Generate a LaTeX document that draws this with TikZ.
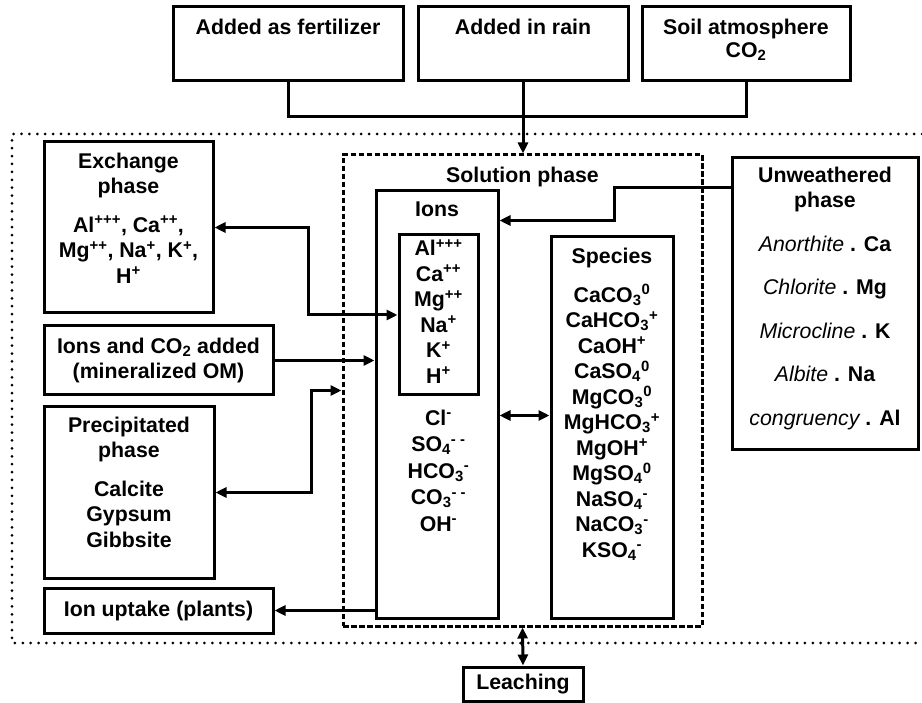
\documentclass[tikz,border=0pt]{standalone}
\usepackage{fontspec}
\setmainfont{Liberation Sans}
\usetikzlibrary{arrows.meta,positioning}

\tikzset{
  box/.style={draw, line width=3pt, inner sep=0pt, align=center},
  txt/.style={align=center, inner sep=0pt},
  link/.style={line width=3pt},
  dashline/.style={dash pattern=on 5.5pt off 2.5pt},
  dotline/.style={line width=3pt, line cap=round, dash pattern=on 0pt off 7.9pt},
}

\begin{document}
\begin{tikzpicture}[x=1pt,y=-1pt,>={Triangle[length=11pt,width=10pt]},
    font=\fontsize{21.3}{25.5}\selectfont\bfseries]

    \fill[white] (0,0) rectangle (922,703);
    \useasboundingbox (0,0) rectangle (922,703);

    % inputs on top
    \node[box, minimum width=230pt, minimum height=74pt] (fert) at (288,44) {};
    \node[box, minimum width=210pt, minimum height=74pt] (rain) at (523,44) {};
    \node[box, minimum width=208pt, minimum height=74pt] (soil) at (746,44) {};
    \node[txt] (ferttxt) [below=13pt of fert.north] {Added as fertilizer};
    \node[txt] (raintxt) [below=13pt of rain.north] {Added in rain};
    \node[txt] (soiltxt) [below=13pt of soil.north] {Soil atmosphere\\[-2pt]CO\textsubscript{2}};

    % soil system
    \draw[dotline] (930,134) -| (12,643) -- (930,643);

    \node[box, dashline, minimum width=359pt, minimum height=471pt] (sol) at (522.5,390.5) {};
    \node[txt] (soltxt) [below=13pt of sol.north] {Solution phase};

    \node[box, minimum width=122pt, minimum height=427pt] (ions) at (437,404.5) {};
    \node[txt] (ionstxt) [below=12pt of ions.north] {Ions};
    \node[box, minimum width=79pt, minimum height=160pt] (inner) at (438.5,315) {};
    \node[txt] (cations) [below=6pt of inner.north]
        {Al\textsuperscript{+++}\\Ca\textsuperscript{++}\\Mg\textsuperscript{++}\\Na\textsuperscript{+}\\K\textsuperscript{+}\\H\textsuperscript{+}};
    \node[txt] (anions) [below=13pt of inner.south]
        {Cl\textsuperscript{-}\\[1pt]SO\textsubscript{4}\textsuperscript{- -}\\[1pt]HCO\textsubscript{3}\textsuperscript{-}\\[1pt]CO\textsubscript{3}\textsuperscript{- -}\\[1pt]OH\textsuperscript{-}};

    \node[box, minimum width=122pt, minimum height=381pt] (species) at (612,427.5) {};
    \node[txt] (speciestxt) [below=12pt of species.north]
        {Species\\[13.5pt]CaCO\textsubscript{3}\textsuperscript{0}\\CaHCO\textsubscript{3}\textsuperscript{+}\\CaOH\textsuperscript{+}\\CaSO\textsubscript{4}\textsuperscript{0}\\MgCO\textsubscript{3}\textsuperscript{0}\\MgHCO\textsubscript{3}\textsuperscript{+}\\MgOH\textsuperscript{+}\\MgSO\textsubscript{4}\textsuperscript{0}\\NaSO\textsubscript{4}\textsuperscript{-}\\NaCO\textsubscript{3}\textsuperscript{-}\\KSO\textsubscript{4}\textsuperscript{-}};

    \node[box, minimum width=186pt, minimum height=292pt] (unw) at (825,304) {};
    \node[txt] (unwtxt) [below=10pt of unw.north]
        {Unweathered\\phase\\[18pt]{\mdseries\itshape Anorthite} . Ca\\[18pt]{\mdseries\itshape Chlorite} . Mg\\[18pt]{\mdseries\itshape Microcline} . K\\[18pt]{\mdseries\itshape Albite} . Na\\[18pt]{\mdseries\itshape congruency} . Al};

    \node[box, minimum width=169pt, minimum height=171pt] (exch) at (128.5,227.5) {};
    \node[txt] (exchtxt) [below=12pt of exch.north]
        {Exchange\\phase\\[13pt]Al\textsuperscript{+++}, Ca\textsuperscript{++},\\Mg\textsuperscript{++}, Na\textsuperscript{+}, K\textsuperscript{+},\\H\textsuperscript{+}};

    \node[box, minimum width=229pt, minimum height=69pt] (added) at (158.5,360.5)
        {Ions and CO\textsubscript{2} added\\(mineralized OM)};

    \node[box, minimum width=170pt, minimum height=171pt] (precip) at (129,492.5) {};
    \node[txt] (preciptxt) [below=11pt of precip.north]
        {Precipitated\\phase\\[13pt]Calcite\\Gypsum\\Gibbsite};

    \node[box, minimum width=229pt, minimum height=45pt] (uptake) at (158.5,610.5) {Ion uptake (plants)};
    \node[box, minimum width=120pt, minimum height=34pt] (leach) at (523,684) {Leaching};

    \coordinate (join) at (523,117);
    \coordinate (mid) at ([yshift=-226pt]ions.north east);

    % connectors
    \draw[link] (fert.south) |- (join) -| (soil.south);
    \draw[link,->] (rain.south) -- (rain.south |- sol.north);
    \draw[link,<->] (exch.east) -- ++(94,0) |- (inner.west);
    \draw[link,->] (added.east) -- (added.east -| ions.west);
    \draw[link,<->] (precip.east) -- ++(96,0) |- (sol.west);
    \draw[link,->] (uptake.east -| ions.west) -- (uptake.east);
    \draw[link,->] ([yshift=-31pt]unw.north west) -- ++(-116,0) |- ([yshift=-31pt]ions.north east);
    \draw[link,<->] (mid) -- (mid -| species.west);
    \draw[link,<->] (sol.south) -- (leach.north);

\end{tikzpicture}
\end{document}
